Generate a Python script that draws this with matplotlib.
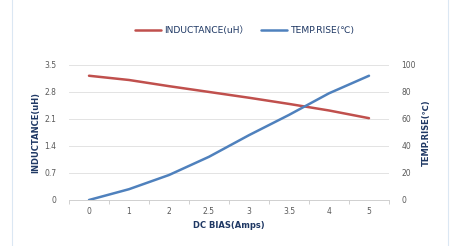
import matplotlib
matplotlib.use('Agg')
import matplotlib.pyplot as plt
from matplotlib.patches import Rectangle
import numpy as np

plt.rcParams['font.family'] = ['DejaVu Sans', 'Noto Sans CJK SC']

categories = ['0', '1', '2', '2.5', '3', '3.5', '4', '5']
inductance = [3.22, 3.11, 2.95, 2.80, 2.65, 2.49, 2.32, 2.12]
temp_rise = [0, 8, 18.5, 32, 48, 63, 79, 92]

red = '#c0504d'
blue = '#4f81bd'
tick_color = '#595959'
label_color = '#1f3864'

fig = plt.figure(figsize=(4.51, 2.46), dpi=100)
fig.patch.set_facecolor('white')
fig.add_artist(Rectangle((0.027, -0.02), 0.966, 1.04, transform=fig.transFigure,
                         fill=False, edgecolor='#dbe7f3', linewidth=0.8))

ax = fig.add_axes([0.153, 0.187, 0.7095, 0.549])
ax2 = ax.twinx()
x = np.arange(len(categories))

l1, = ax.plot(x, inductance, color=red, linewidth=1.8, solid_capstyle='round',
              label='INDUCTANCE(uH）')
l2, = ax2.plot(x, temp_rise, color=blue, linewidth=1.8, solid_capstyle='round',
               label='TEMP.RISE(℃)')

ax.set_ylim(0, 3.5)
ax.set_yticks([0, 0.7, 1.4, 2.1, 2.8, 3.5])
ax.set_yticklabels(['0', '0.7', '1.4', '2.1', '2.8', '3.5'])
ax2.set_ylim(0, 100)
ax2.set_yticks([0, 20, 40, 60, 80, 100])
ax.set_xlim(-0.5, len(categories) - 0.5)
ax.set_xticks(x)
ax.set_xticklabels(categories)
ax.set_xticks(np.arange(-0.5, len(categories), 1), minor=True)

ax.grid(axis='y', color='#e3e3e3', linewidth=0.7)
ax.set_axisbelow(True)
for a in (ax, ax2):
    for s in ['top', 'left', 'right', 'bottom']:
        a.spines[s].set_visible(False)
ax.spines['bottom'].set_visible(True)
ax.spines['bottom'].set_color('#d0d0d0')
ax.spines['bottom'].set_linewidth(0.7)

ax.tick_params(axis='x', which='major', length=0, labelsize=5.5, labelcolor=tick_color, pad=5)
ax.tick_params(axis='x', which='minor', length=3, color='#d0d0d0', width=0.7)
ax.tick_params(axis='y', length=0, labelsize=5.5, labelcolor=tick_color, pad=9)
ax2.tick_params(axis='y', length=0, labelsize=5.5, labelcolor=tick_color, pad=9)

ax.set_xlabel('DC BIAS(Amps)', fontsize=6, fontweight='bold', color=label_color, labelpad=4)
ax.set_ylabel('INDUCTANCE(uH)', fontsize=6, fontweight='bold', color=label_color, labelpad=3)
ax2.set_ylabel('TEMP.RISE(℃)', fontsize=6, fontweight='bold', color=label_color, labelpad=4)

fig.legend(handles=[l1, l2], loc='center', bbox_to_anchor=(0.543, 0.875), ncol=2,
           frameon=False, fontsize=6.6, labelcolor=label_color, handlelength=2.8,
           handletextpad=0.4, columnspacing=1.3)

fig.savefig('out.png', dpi=100, facecolor='white')
